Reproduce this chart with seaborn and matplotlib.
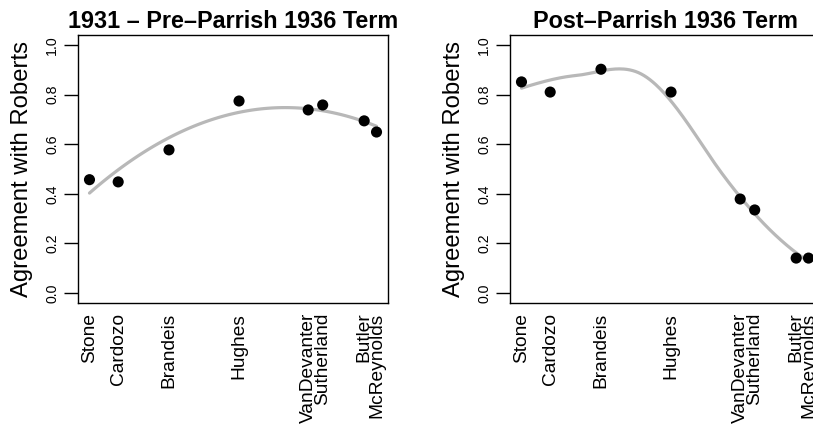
import numpy as np
import pandas as pd
import matplotlib
matplotlib.use("Agg")
import matplotlib.pyplot as plt
import seaborn as sns

# ---- data ----
justices = ["Stone", "Cardozo", "Brandeis", "Hughes",
            "VanDevanter", "Sutherland", "Butler", "McReynolds"]
position = [0.0, 0.100, 0.277, 0.521, 0.762, 0.8125, 0.957, 1.0]
agree_pre = [0.457, 0.448, 0.577, 0.774, 0.738, 0.758, 0.694, 0.649]
agree_post = [0.851, 0.810, 0.902, 0.810, 0.379, 0.335, 0.141, 0.141]
titles = ["1931 \u2013 Pre\u2013Parrish 1936 Term", "Post\u2013Parrish 1936 Term"]
smoothers = ["poly2", "loess"]
y_ticks = [0.0, 0.2, 0.4, 0.6, 0.8, 1.0]
y_label = "Agreement with Roberts"


def local_fit(x, y, x0, span=0.75):
    n = len(x)
    q = int(np.floor(n * span))
    d = np.abs(x - x0)
    h = np.sort(d)[q - 1]
    w = np.clip(1 - (d / h) ** 3, 0, None) ** 3
    X = np.vstack([(x - x0) ** k for k in range(3)]).T
    sw = np.sqrt(w)
    beta, *_ = np.linalg.lstsq(X * sw[:, None], y * sw, rcond=None)
    return beta[0], beta[1]


def loess_curve(x, y, xs, span=0.75):
    """Local quadratic loess evaluated on kd-tree vertices, Hermite-interpolated."""
    x = np.asarray(x, float)
    y = np.asarray(y, float)
    xsorted = np.sort(x)
    mu = 0.005 * (x.max() - x.min())
    verts = [x.min() - mu, x.max() + mu]

    def split(lo, hi):
        pts = xsorted[lo:hi]
        if len(pts) <= 1:
            return
        m = (len(pts) - 1) // 2
        verts.append((pts[m] + pts[m + 1]) / 2)
        split(lo, lo + m + 1)
        split(lo + m + 1, hi)

    split(0, len(x))
    verts = np.sort(verts)
    fits = [local_fit(x, y, v, span) for v in verts]
    out = []
    for xx in xs:
        i = int(np.clip(np.searchsorted(verts, xx) - 1, 0, len(verts) - 2))
        v0, v1 = verts[i], verts[i + 1]
        (f0, s0), (f1, s1) = fits[i], fits[i + 1]
        hh = v1 - v0
        t = (xx - v0) / hh
        out.append((1 - t) ** 2 * (1 + 2 * t) * f0 + t ** 2 * (3 - 2 * t) * f1
                   + (t * (1 - t) ** 2 * s0 - t ** 2 * (1 - t) * s1) * hh)
    return np.array(out)


sns.set_style("white")
plt.rcParams["font.family"] = ["Liberation Sans", "DejaVu Sans"]
for k in ["text.color", "axes.labelcolor", "xtick.color", "ytick.color",
          "axes.edgecolor"]:
    plt.rcParams[k] = "black"

W, H = 813, 425
fig = plt.figure(figsize=(W / 100, H / 100), dpi=100)
curve_color = "#b8b8b8"

panels = [(78, agree_pre, titles[0], smoothers[0]),
          (510, agree_post, titles[1], smoothers[1])]
for left_px, vals, title, smoother in panels:
    ax = fig.add_axes([left_px / W, 1 - 303 / H, 310 / W, 268 / H])
    df = pd.DataFrame({"pos": position, "agree": vals, "name": justices})
    if smoother == "poly2":
        sns.regplot(data=df, x="pos", y="agree", ax=ax, order=2, ci=None,
                    scatter=False, truncate=True,
                    line_kws={"color": curve_color, "linewidth": 2.3,
                              "zorder": 2})
    else:
        xs = np.linspace(min(position), max(position), 200)
        sns.lineplot(x=xs, y=loess_curve(position, vals, xs), ax=ax,
                     color=curve_color, linewidth=2.3, sort=False, zorder=2)
    sns.scatterplot(data=df, x="pos", y="agree", ax=ax, color="black",
                    s=64, edgecolor="none", zorder=3)
    ax.set_xlim(-0.04, 1.04)
    ax.set_ylim(-0.04, 1.04)
    ax.set_yticks(y_ticks)
    ax.set_yticklabels([f"{v:.1f}" for v in y_ticks], rotation=90,
                       va="center", fontsize=10.2)
    ax.set_xticks(position)
    ax.set_xticklabels(justices, rotation=90, ha="center", va="top",
                       fontsize=13.8)
    ax.tick_params(axis="x", length=0, pad=7)
    ax.tick_params(axis="y", length=10, width=1.0, color="black", pad=3.5,
                   direction="out", left=True)
    for sp in ax.spines.values():
        sp.set_visible(True)
        sp.set_color("black")
        sp.set_linewidth(1.0)
    ax.set_xlabel("")
    ax.set_ylabel(y_label, fontsize=17.2)
    ax.yaxis.set_label_coords(-0.145, 0.5)
    ax.set_title(title, fontsize=16.8, fontweight="bold", pad=5)

fig.savefig("out.png", dpi=100)
